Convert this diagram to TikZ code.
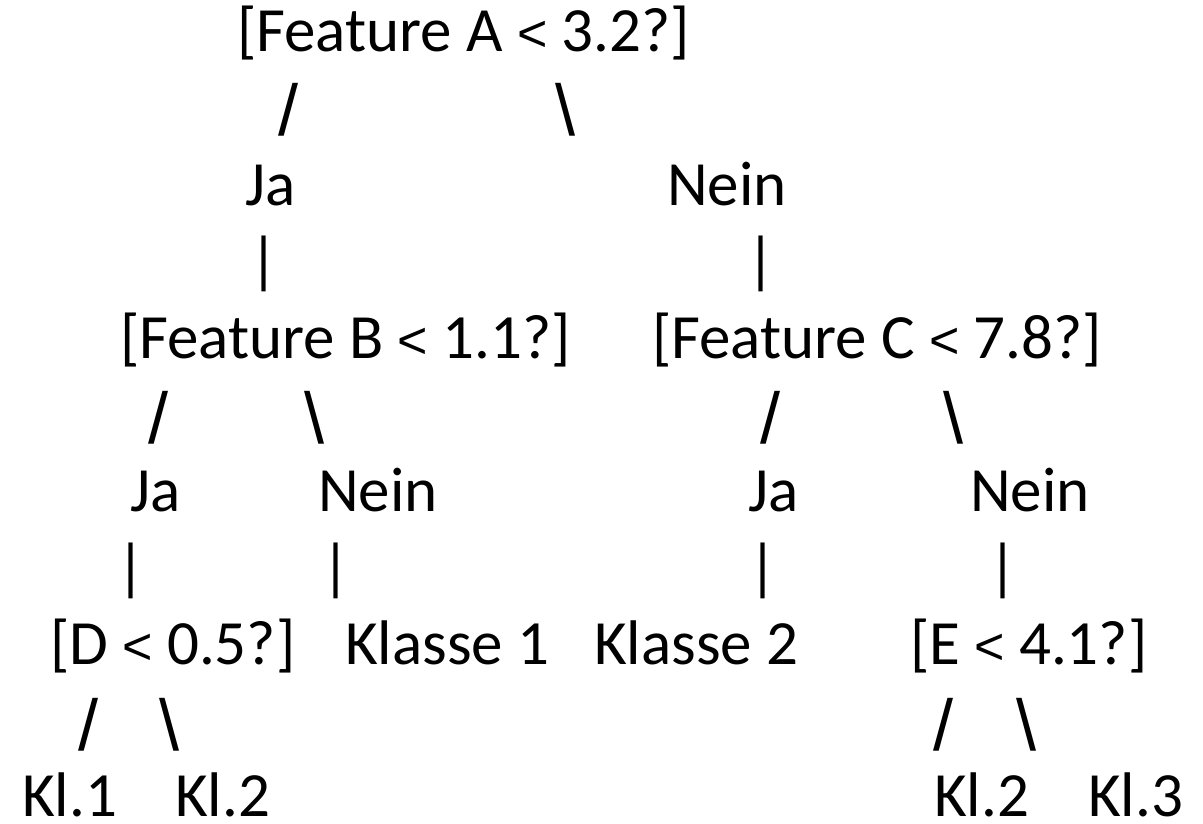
\documentclass[tikz,border=0pt]{standalone}
\usepackage{fontspec}
\setmainfont{Carlito}
\newfontfamily\symfont{Liberation Sans}

% thinner glyph for the comparison sign
\newcommand{\ltsym}{{\symfont\fontsize{52}{60}\selectfont<}}

\begin{document}
\begin{tikzpicture}[
    x=1pt, y=-1pt,
    lbl/.style={anchor=base west, inner sep=0pt, font=\fontsize{63}{76}\selectfont},
    slash/.style={anchor=center, inner sep=0pt, font=\symfont\fontsize{72}{80}\selectfont},
  ]
  \useasboundingbox (0,0) rectangle (1203,824);

  % root question
  \node[lbl] (qA) at (237,52) {[Feature A \ltsym{} 3.2?]};
  \node[slash] (slA) at (288,109.5) {/};
  \node[slash] (srA) at (565,109.5) {\textbackslash};

  % first answers
  \node[lbl] (jaA) at (245,205.2) {Ja};
  \node[lbl] (neinA) at (667,205.2) {Nein};
  \node[lbl] (bjaA) at (249,281.8) {|};
  \node[lbl] (bneinA) at (746,281.8) {|};

  % second level questions
  \node[lbl] (qB) at (120,358.4) {[Feature B \ltsym{} 1.1?]};
  \node[lbl] (qC) at (652,358.4) {[Feature C \ltsym{} 7.8?]};
  \node[slash] (slB) at (159,418) {/};
  \node[slash] (srB) at (314,418) {\textbackslash};
  \node[slash] (slC) at (770,418) {/};
  \node[slash] (srC) at (953,418) {\textbackslash};

  % second answers
  \node[lbl] (jaB) at (130,511.6) {Ja};
  \node[lbl] (neinB) at (318,511.6) {Nein};
  \node[lbl] (jaC) at (748,511.6) {Ja};
  \node[lbl] (neinC) at (970,511.6) {Nein};
  \node[lbl] (bjaB) at (116,588.2) {|};
  \node[lbl] (bneinB) at (321,588.2) {|};
  \node[lbl] (bjaC) at (748,588.2) {|};
  \node[lbl] (bneinC) at (988,588.2) {|};

  % third level
  \node[lbl] (qD) at (50,664.8) {[D \ltsym{} 0.5?]};
  \node[lbl] (k1) at (345,664.8) {Klasse 1};
  \node[lbl] (k2) at (594,664.8) {Klasse 2};
  \node[lbl] (qE) at (910,664.8) {[E \ltsym{} 4.1?]};
  \node[slash] (slD) at (89,725) {/};
  \node[slash] (srD) at (170,725) {\textbackslash};
  \node[slash] (slE) at (943,725) {/};
  \node[slash] (srE) at (1026,725) {\textbackslash};

  % leaves
  \node[lbl, text depth=0pt] (kD1) at (22,816) {Kl.1};
  \node[lbl, text depth=0pt] (kD2) at (175,816) {Kl.2};
  \node[lbl, text depth=0pt] (kE2) at (934,816) {Kl.2};
  \node[lbl, text depth=0pt] (kE3) at (1088,816) {Kl.3};

\end{tikzpicture}
\end{document}
